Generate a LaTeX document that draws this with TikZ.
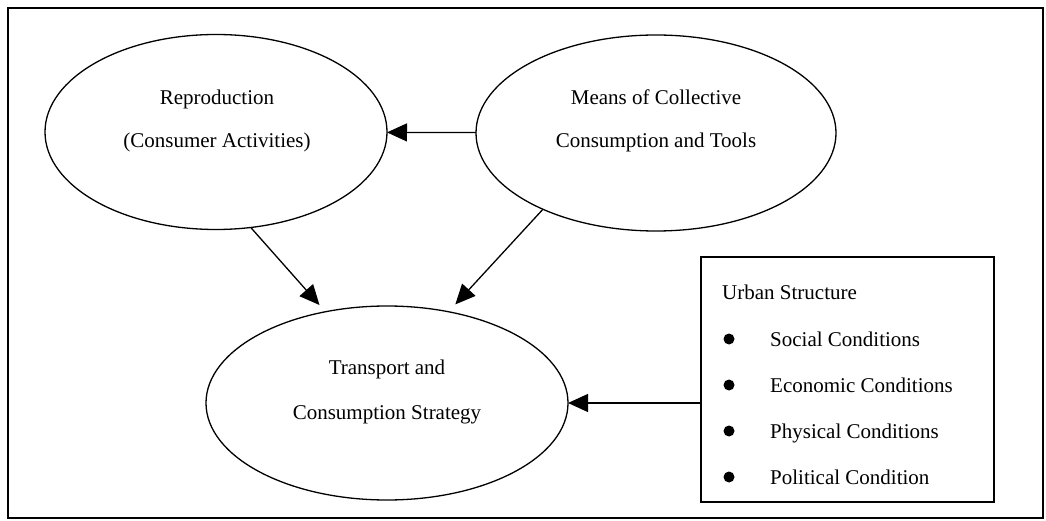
\documentclass[tikz,border=0pt]{standalone}
\usepackage{fontspec}
\setmainfont{Liberation Serif}
\usetikzlibrary{arrows.meta,shapes.geometric}
\tikzset{
  oval/.style={draw, ellipse, line width=1.3pt, inner sep=0pt, outer sep=0pt},
  txt/.style={align=center, font=\fontsize{21}{25.2}\selectfont},
  item/.style={anchor=base west, inner sep=0pt, font=\fontsize{21}{25.2}\selectfont},
  dot/.style={circle, fill, inner sep=0pt, minimum size=11pt},
  flow/.style={line width=1.3pt, -{Triangle[length=20pt,width=18pt]}}
}
\begin{document}
\begin{tikzpicture}[x=1pt,y=-1pt]
      \useasboundingbox (0,0) rectangle (1046,521);
      \draw[line width=2pt] (8,8) rectangle (1043,518);
      \node[oval, minimum width=342pt, minimum height=195pt] (repro) at (216,132) {};
      \node[oval, minimum width=360pt, minimum height=196pt] (means) at (656,133) {};
      \node[oval, minimum width=362pt, minimum height=194pt] (transport) at (387,403) {};
      \node[txt] (repro-text) at (217,121) {Reproduction\\[17.8pt](Consumer Activities)};
      \node[txt] (means-text) at (656,121) {Means of Collective\\[17.8pt]Consumption and Tools};
      \node[txt] (transport-text) at (387,392) {Transport and\\[19.8pt]Consumption Strategy};
      \node[draw, line width=1.3pt, minimum width=293pt, minimum height=245pt, inner sep=0pt, outer sep=0pt] (urban) at (847.5,379.5) {};
      \node[item] (urban-title) at (722,299) {Urban Structure};
      \foreach \name/\y/\label in {social/339/Social Conditions, economic/385/Economic Conditions,
                                  physical/431/Physical Conditions, political/477/Political Condition} {
        \node[dot] (\name-dot) at (729,\y) {};
        \node[item] (\name) at (770,\y+7.5) {\label};
      }
      \draw[flow] (means) -- (repro);
      \draw[flow, shorten >=9pt] (repro.-70) -- (transport.124);
      \draw[flow, shorten >=10pt] (means.214) -- (transport.56);
      \draw[flow] (urban.west |- transport.east) -- (transport.east);
    \end{tikzpicture}
\end{document}
